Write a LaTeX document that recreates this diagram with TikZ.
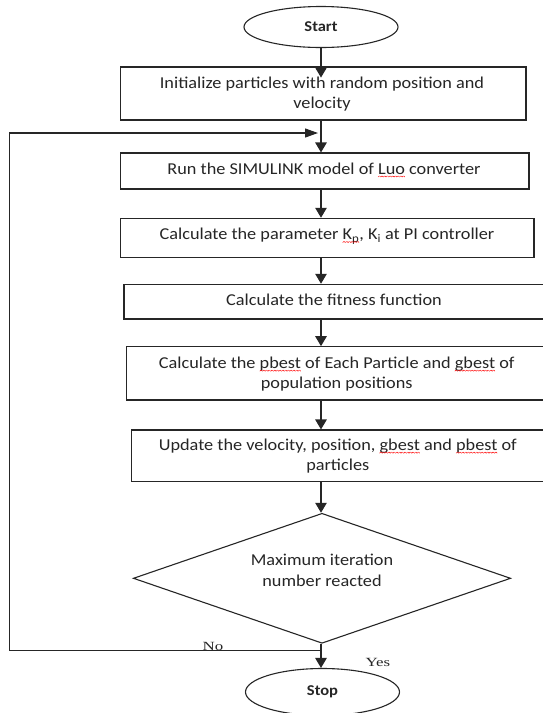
\documentclass[tikz,border=0pt]{standalone}
\usepackage{fontspec}
\setmainfont{Carlito}[FakeStretch=1.1]
\newfontfamily\tnr{Liberation Serif}[FakeStretch=1.35]
\usetikzlibrary{shapes.geometric,arrows.meta}
\newsavebox\sqword
\newcommand\zzu{\kern-0.3pt\rotatebox{45}{\rule{1.6pt}{0.45pt}}\raisebox{1.13pt}{\rotatebox{-45}{\rule{1.6pt}{0.45pt}}}}
\newcommand\redsq[1]{\sbox\sqword{#1}\rlap{\usebox\sqword}\raisebox{-3.2pt}[0pt][0pt]{\textcolor{red}{\hbox to \wd\sqword{\xleaders\hbox{\zzu}\hfil}}}}
\begin{document}
\begin{tikzpicture}[x=1pt,y=-1pt,
  boxshape/.style={draw=black!85,line width=1.1pt,rectangle,inner sep=0pt},
  txt/.style={font=\fontsize{16.6}{20.5}\selectfont,text=black!85,align=center,inner sep=0pt},
  term/.style={draw=black!85,line width=1.1pt,ellipse,inner sep=0pt,minimum width=154pt,font=\fontsize{15}{17}\selectfont\bfseries,text=black!85},
  dec/.style={draw=black!85,line width=1.1pt,diamond,inner sep=0pt,minimum width=377.4pt,minimum height=130pt},
  arr/.style={draw=black!85,line width=1.2pt,-{Triangle[width=11.5pt,length=10pt]}},
  looparr/.style={draw=black!85,line width=1.2pt,-{Triangle[width=9pt,length=13pt]}},
  lbl/.style={font=\tnr\fontsize{12.5}{14}\selectfont,text=black!85,inner sep=0pt,anchor=base}]
\useasboundingbox (0,0) rectangle (543,713);
\fill[white] (0,0) rectangle (543,713);
\clip (0,0) rectangle (543,713);

\node[term,minimum height=41pt] (start) at (321,27) {Start};

\node[boxshape,minimum width=405.3pt,minimum height=53pt] (b1) at (323.35,93.5) {};
\node[txt] (t1) at (322,94) {Initialize particles with random position and\\velocity};

\node[boxshape,minimum width=408.3pt,minimum height=36pt] (b2) at (324.85,171) {};
\node[txt,anchor=base] (t2) at (324,174) {Run the SIMULINK model of \redsq{Luo} converter};

\node[boxshape,minimum width=413.3pt,minimum height=39pt] (b3) at (327.35,237.8) {};
\node[txt,anchor=base] (t3) at (327,239.5) {Calculate the parameter \redsq{K\textsubscript{p}}, K\textsubscript{i} at PI controller};

\node[boxshape,minimum width=436pt,minimum height=34.7pt] (b4) at (342,301.65) {};
\node[txt,anchor=base] (t4) at (334,305) {Calculate the fitness function};

\node[boxshape,minimum width=433.3pt,minimum height=53.3pt] (b5) at (343.35,373.35) {};
\node[txt] (t5) at (336.7,374) {Calculate the \redsq{pbest} of Each Particle and \redsq{gbest} of\\population positions};

\node[boxshape,minimum width=428.3pt,minimum height=51.7pt] (b6) at (345.85,455.85) {};
\node[txt] (t6) at (337.8,456) {Update the velocity, position, \redsq{gbest} and \redsq{pbest} of\\particles};

\node[dec] (d) at (322,578.3) {};
\node[txt] (dt) at (322,570.5) {Maximum iteration\\number reacted};

\node[term,minimum height=47pt] (stop) at (322.5,692) {Stop};

\node[lbl] (no) at (213,650) {No};
\node[lbl] (yes) at (378,666.7) {Yes};

\coordinate (ax) at (321,0);
\coordinate (lp) at (318,133);
\coordinate (nb) at (321,650.5);
\coordinate (ll) at (9.7,650.5);

\draw[arr] (start.south -| ax) -- ++(0,29.5);
\draw[arr] (b1.south -| ax) -- (b2.north -| ax);
\draw[arr] (b2.south -| ax) -- (b3.north -| ax);
\draw[arr] (b3.south -| ax) -- (b4.north -| ax);
\draw[arr] (b4.south -| ax) -- (b5.north -| ax);
\draw[arr] (b5.south -| ax) -- (b6.north -| ax);
\draw[arr] (b6.south -| ax) -- (d.north -| ax);
\draw[arr] (d.south -| ax) -- (stop.north -| ax);
\draw[looparr] (nb) -- (ll) |- (lp);
\end{tikzpicture}
\end{document}
